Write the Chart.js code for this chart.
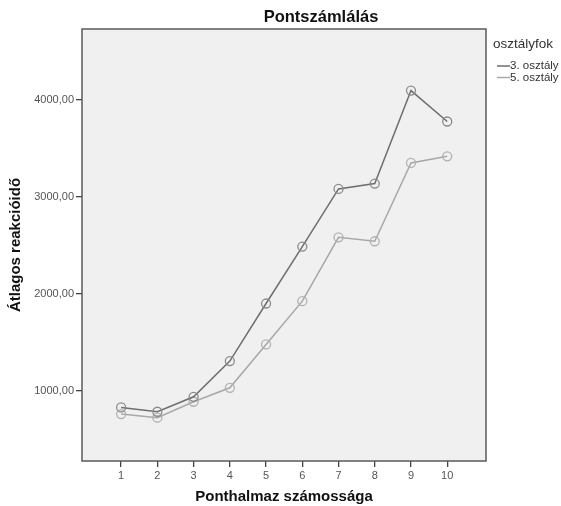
<!DOCTYPE html>
<html>
<head>
<meta charset="utf-8">
<script src="https://cdn.jsdelivr.net/npm/chart.js@4"></script>
<style>
  html, body { margin: 0; padding: 0; background: #fff; }
  #wrap { width: 561px; height: 506px; position: relative; }
</style>
</head>
<body>
<div id="wrap"><canvas id="c"></canvas></div>
<script>
// data
const categories = [1, 2, 3, 4, 5, 6, 7, 8, 9, 10];
const grade3 = [828, 784, 938, 1306, 1900, 2487, 3082, 3137, 4096, 3777];
const grade5 = [760, 723, 887, 1031, 1478, 1924, 2583, 2542, 3350, 3418];
const yTicks = [1000, 2000, 3000, 4000];
const seriesLabels = ['3. osztály', '5. osztály'];
const legendTitle = 'osztályfok';
const chartTitle = 'Pontszámlálás';

const dark = '#6e6e6e', light = '#a8a8a8';
const FONT = '"Liberation Sans", Arial, sans-serif';

const fmt = v => v.toFixed(2).replace('.', ',');

// plot background, frame, title and legend (SPSS look)
const decor = {
  id: 'decor',
  beforeDatasetsDraw(chart) {
    const { ctx, chartArea: a } = chart;
    ctx.save();
    ctx.fillStyle = '#f0f0f0';
    ctx.fillRect(a.left, a.top, a.right - a.left, a.bottom - a.top);
    ctx.restore();
  },
  afterDraw(chart) {
    const { ctx, chartArea: a } = chart;
    ctx.save();
    ctx.strokeStyle = '#5a5a5a';
    ctx.lineWidth = 1.5;
    ctx.strokeRect(a.left, a.top, a.right - a.left, a.bottom - a.top);

    ctx.fillStyle = '#111';
    ctx.font = 'bold 16.5px ' + FONT;
    ctx.textAlign = 'center';
    ctx.textBaseline = 'middle';
    ctx.fillText(chartTitle, 321, 17);

    ctx.textAlign = 'left';
    ctx.fillStyle = '#333';
    ctx.font = '13.5px ' + FONT;
    ctx.fillText(legendTitle, 493, 44);
    ctx.font = '11.5px ' + FONT;
    [dark, light].forEach((col, i) => {
      const y = 66 + i * 11.5;
      ctx.strokeStyle = col;
      ctx.lineWidth = 1.5;
      ctx.beginPath();
      ctx.moveTo(497, y);
      ctx.lineTo(510, y);
      ctx.stroke();
      ctx.fillStyle = '#333';
      ctx.fillText(seriesLabels[i], 510, y);
    });
    ctx.restore();
  }
};

const toPts = vals => vals.map((v, i) => ({ x: categories[i], y: v }));

new Chart(document.getElementById('c'), {
  type: 'line',
  data: {
    datasets: [
      { label: seriesLabels[0], data: toPts(grade3), borderColor: dark, borderWidth: 1.5,
        pointRadius: 4.5, pointBorderColor: '#8a8a8a', pointBackgroundColor: 'rgba(0,0,0,0)', pointBorderWidth: 1.3, tension: 0 },
      { label: seriesLabels[1], data: toPts(grade5), borderColor: light, borderWidth: 1.5,
        pointRadius: 4.5, pointBorderColor: '#b0b0b0', pointBackgroundColor: 'rgba(0,0,0,0)', pointBorderWidth: 1.3, tension: 0 }
    ]
  },
  options: {
    responsive: true,
    maintainAspectRatio: false,
    animation: false,
    layout: { padding: { left: 0, top: 29, right: 75, bottom: 0 } },
    plugins: { legend: { display: false }, title: { display: false }, tooltip: { enabled: false } },
    scales: {
      x: {
        type: 'linear', min: -0.08, max: 11.07,
        afterBuildTicks: s => { s.ticks = categories.map(v => ({ value: v })); },
        afterFit: s => { s.height = 45; },
        grid: { drawOnChartArea: false, drawTicks: true, tickLength: 6, color: '#444', lineWidth: 1.3 },
        border: { display: false },
        ticks: { color: '#555', font: { family: FONT, size: 11 }, padding: 2, maxRotation: 0 },
        title: { display: true, text: 'Ponthalmaz számossága', color: '#111',
          font: { family: FONT, size: 15, weight: 'bold' }, padding: { top: 0, bottom: 0 } }
      },
      y: {
        min: 276, max: 4731,
        afterBuildTicks: s => { s.ticks = yTicks.map(v => ({ value: v })); },
        afterFit: s => { s.width = 82; },
        grid: { drawOnChartArea: false, drawTicks: true, tickLength: 6, color: '#444', lineWidth: 1.3 },
        border: { display: false },
        ticks: { color: '#555', font: { family: FONT, size: 11 }, padding: 2, callback: v => fmt(v) },
        title: { display: true, text: 'Átlagos reakcióidő', color: '#111',
          font: { family: FONT, size: 15, weight: 'bold' }, padding: { top: 7, bottom: 0 } }
      }
    }
  },
  plugins: [decor]
});
</script>
</body>
</html>
